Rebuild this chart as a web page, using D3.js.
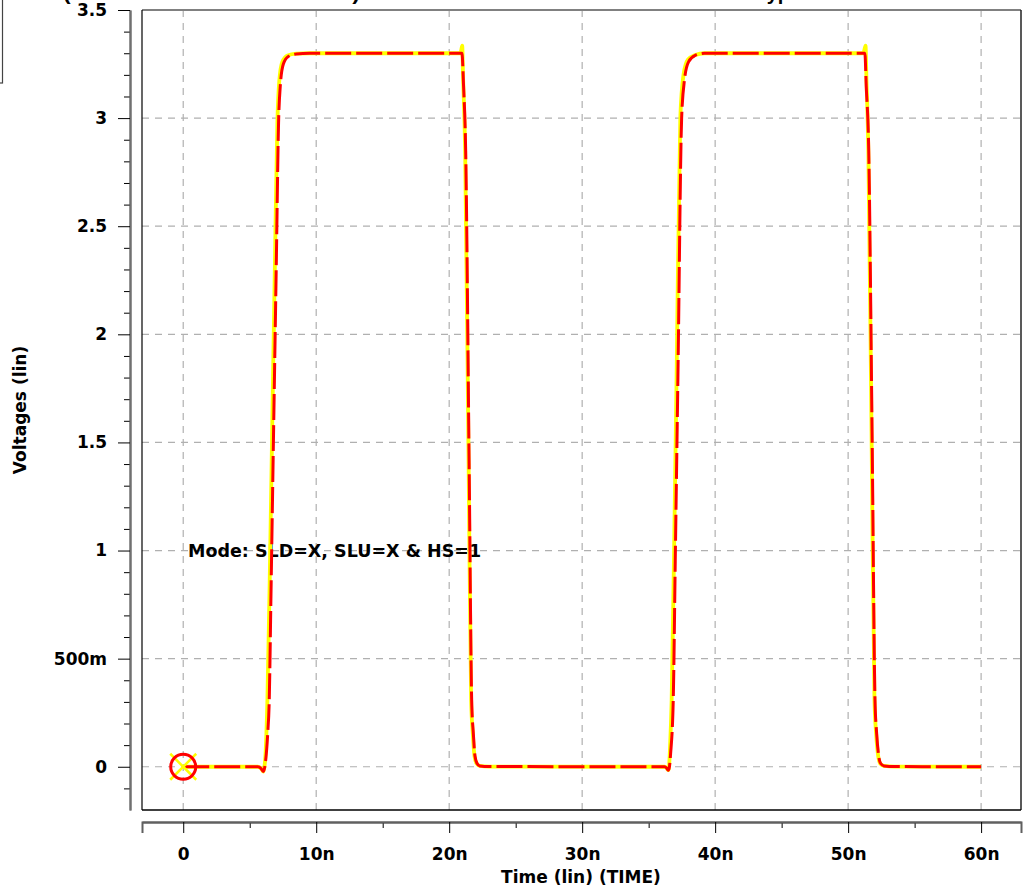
<!DOCTYPE html>
<html>
<head>
<meta charset="utf-8">
<script src="https://cdn.jsdelivr.net/npm/d3@7"></script>
<style>
  html, body { margin: 0; padding: 0; background: #fff; overflow: hidden; }
  svg { display: block; }
  text { font-family: "DejaVu Sans", sans-serif; font-weight: bold; fill: #000; }
</style>
</head>
<body>
<svg id="chart" width="1033" height="896"></svg>
<script>
// ---- data (time in ns, voltage in V) ----
const redTime = [0, 5.6, 5.85, 6.02, 6.12, 6.2, 6.35, 6.47, 6.6, 6.8, 7.0, 7.17, 7.3, 7.53, 7.9, 8.5, 9.5,
  20.9, 20.96, 21.08, 21.24, 21.5, 21.69, 21.82, 21.94, 22.1, 22.3, 23,
  36.2, 36.35, 36.47, 36.55, 36.65, 36.85, 37.0, 37.2, 37.48, 37.7, 38.0, 38.5, 39.2,
  51.2, 51.26, 51.36, 51.55, 51.8, 52.02, 52.15, 52.3, 52.45, 52.7, 53.5, 60];
const redVolt = [0, 0, -0.008, -0.022, -0.005, 0.03, 0.15, 0.31, 0.8, 1.57, 2.33, 2.98, 3.15, 3.25, 3.285, 3.297, 3.3,
  3.3, 3.3, 3.15, 2.85, 1.4, 0.31, 0.15, 0.05, 0.015, 0.004, 0.001,
  0, -0.006, -0.016, -0.004, 0.06, 0.31, 0.95, 1.8, 3.0, 3.18, 3.26, 3.29, 3.3,
  3.3, 3.3, 3.15, 2.85, 1.55, 0.31, 0.15, 0.05, 0.015, 0.004, 0.001, 0];

const yellowTime = [0, 5.6, 5.85, 6.02, 6.1, 6.18, 6.33, 6.5, 6.7, 6.9, 7.08, 7.22, 7.45, 7.85, 8.5, 9.5,
  20.85, 20.98, 21.04, 21.2, 21.46, 21.65, 21.78, 21.9, 22.06, 22.3, 23,
  36.2, 36.35, 36.47, 36.53, 36.6, 36.73, 36.9, 37.1, 37.38, 37.62, 37.95, 38.5, 39.2,
  51.15, 51.31, 51.37, 51.52, 51.76, 51.98, 52.11, 52.26, 52.41, 52.7, 53.5, 60];
const yellowVolt = [0, 0, -0.008, -0.022, -0.003, 0.05, 0.31, 0.85, 1.6, 2.35, 2.98, 3.17, 3.26, 3.29, 3.298, 3.3,
  3.3, 3.335, 3.2, 2.85, 1.4, 0.31, 0.15, 0.05, 0.015, 0.004, 0.001,
  0, -0.006, -0.016, -0.003, 0.08, 0.31, 0.95, 1.8, 3.0, 3.2, 3.27, 3.292, 3.3,
  3.3, 3.335, 3.2, 2.85, 1.55, 0.31, 0.15, 0.05, 0.015, 0.004, 0.001, 0];

const xTickValues = [0, 10, 20, 30, 40, 50, 60];
const xTickLabels = ["0", "10n", "20n", "30n", "40n", "50n", "60n"];
const yTickValues = [0, 0.5, 1, 1.5, 2, 2.5, 3, 3.5];
const yTickLabels = ["0", "500m", "1", "1.5", "2", "2.5", "3", "3.5"];
const xTitle = "Time (lin) (TIME)";
const yTitle = "Voltages (lin)";
const annotation = "Mode: SLD=X, SLU=X & HS=1";

// ---- layout ----
const svg = d3.select("#chart");
const L = 142, R = 1021, T = 10, B = 810;
const x = d3.scaleLinear().domain([-3.1, 63.0]).range([L, R]);
const y = d3.scaleLinear().domain([-0.2, 3.5]).range([B, T]);

// off-screen legend box (top-left)
svg.append("rect").attr("x", -100).attr("y", -10).attr("width", 102.5).attr("height", 93)
  .attr("fill", "#fff").attr("stroke", "#444").attr("stroke-width", 1.2);

// clipped title (only descenders visible)
const title = svg.append("text").attr("y", 0).style("font-family", "Liberation Sans, Arial, sans-serif")
  .style("font-size", "20px");
title.append("tspan").attr("x", 63).attr("textLength", 297).attr("lengthAdjust", "spacingAndGlyphs").text("(OUTPUT MODE RESULTS)");
title.append("tspan").attr("x", 378).attr("textLength", 370).attr("lengthAdjust", "spacingAndGlyphs").text("Driver Waveform at Corner");
title.append("tspan").attr("x", 756).text("Typical");

// grid
const grid = svg.append("g").attr("stroke", "#b0b0b0").attr("stroke-width", 1.2).attr("stroke-dasharray", "7,6");
grid.selectAll("line.v").data(xTickValues).join("line").attr("class", "v")
  .attr("x1", d => x(d)).attr("x2", d => x(d)).attr("y1", T).attr("y2", B);
grid.selectAll("line.h").data(yTickValues.filter(v => v < 3.5)).join("line").attr("class", "h")
  .attr("x1", L).attr("x2", R).attr("y1", d => y(d)).attr("y2", d => y(d));

// frame
svg.append("line").attr("x1", L).attr("x2", R).attr("y1", T).attr("y2", T).attr("stroke", "#808080").attr("stroke-width", 2);
svg.append("line").attr("x1", L).attr("x2", L).attr("y1", T).attr("y2", B).attr("stroke", "#000").attr("stroke-width", 1.2);
svg.append("line").attr("x1", R).attr("x2", R).attr("y1", T).attr("y2", B).attr("stroke", "#222").attr("stroke-width", 1.5);
svg.append("line").attr("x1", L).attr("x2", R).attr("y1", B).attr("y2", B).attr("stroke", "#000").attr("stroke-width", 1.5);

// y axis
const yMinor = d3.range(-1, 35).map(i => i / 10).filter(v => Math.abs(v * 2 - Math.round(v * 2)) > 1e-6);
const yAxisG = svg.append("g").attr("transform", "translate(130,0)");
yAxisG.call(d3.axisLeft(y).tickValues(yMinor).tickSize(6).tickSizeOuter(0).tickFormat(""));
yAxisG.append("g").call(d3.axisLeft(y).tickValues(yTickValues).tickSize(12).tickSizeOuter(0).tickPadding(11)
  .tickFormat((d, i) => yTickLabels[i]));
yAxisG.selectAll("path.domain").attr("stroke", "#707070").attr("stroke-width", 2);
yAxisG.select("g").select("path.domain").remove();
yAxisG.selectAll(".tick line").attr("stroke", "#000").attr("stroke-width", 1);
yAxisG.selectAll("text").style("font-family", "DejaVu Sans, sans-serif").style("font-weight", "bold").style("font-size", "17px").attr("fill", "#000");

// x axis
const xMinor = [5, 15, 25, 35, 45, 55];
const xAxisG = svg.append("g").attr("transform", "translate(0,822)");
xAxisG.call(d3.axisBottom(x).tickValues(xMinor).tickSize(6).tickSizeOuter(11).tickFormat(""));
xAxisG.append("g").call(d3.axisBottom(x).tickValues(xTickValues).tickSize(11).tickSizeOuter(0).tickPadding(15)
  .tickFormat((d, i) => xTickLabels[i]));
xAxisG.selectAll("path.domain").attr("stroke", "#606060").attr("stroke-width", 2);
xAxisG.select("g").select("path.domain").remove();
xAxisG.selectAll(".tick line").attr("stroke", "#000").attr("stroke-width", 1);
xAxisG.selectAll("text").style("font-family", "DejaVu Sans, sans-serif").style("font-weight", "bold").style("font-size", "17px").attr("fill", "#000");

// axis titles
svg.append("text").attr("x", 581).attr("y", 883).attr("text-anchor", "middle").style("font-size", "17px").text(xTitle);
svg.append("text").attr("transform", "translate(26,410) rotate(-90)").attr("text-anchor", "middle").style("font-size", "17px").text(yTitle);

// annotation
svg.append("text").attr("x", 188).attr("y", 557).style("font-size", "17.5px").text(annotation);

// series
const line = d3.line().x(d => x(d[0])).y(d => y(d[1])).curve(d3.curveMonotoneX);
const yellowData = yellowTime.map((t, i) => [t, yellowVolt[i]]);
const redData = redTime.map((t, i) => [t, redVolt[i]]);
svg.append("path").datum(yellowData).attr("d", line).attr("fill", "none")
  .attr("stroke", "#ffff00").attr("stroke-width", 3.8).attr("stroke-linejoin", "round");
svg.append("path").datum(redData).attr("d", line).attr("fill", "none")
  .attr("stroke", "#ff0000").attr("stroke-width", 3).attr("stroke-dasharray", "26,5").attr("stroke-linejoin", "round");

// start marker
const mx = x(0), my = y(0);
const mk = svg.append("g").attr("transform", `translate(${mx},${my})`);
mk.append("line").attr("x1", -13).attr("y1", -13).attr("x2", 13).attr("y2", 13).attr("stroke", "#ffff00").attr("stroke-width", 2.5);
mk.append("line").attr("x1", -13).attr("y1", 13).attr("x2", 13).attr("y2", -13).attr("stroke", "#ffff00").attr("stroke-width", 2.5);
mk.append("circle").attr("r", 12.5).attr("fill", "none").attr("stroke", "#ff0000").attr("stroke-width", 3);
</script>
</body>
</html>
